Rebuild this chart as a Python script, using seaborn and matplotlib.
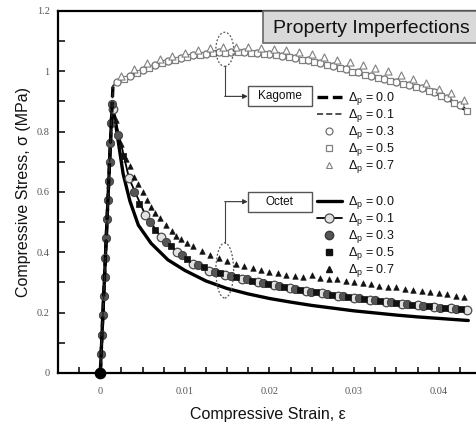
import matplotlib
matplotlib.use("Agg")
import matplotlib.pyplot as plt
from matplotlib.lines import Line2D
from matplotlib.patches import Ellipse, Rectangle
from matplotlib.ticker import MultipleLocator, FuncFormatter
import pandas as pd
import seaborn as sns

# ---------------- data ----------------
# shared elastic loading branch
elastic_strain = [0.0, 0.0001, 0.0002, 0.0003, 0.0004, 0.0005, 0.0006, 0.0007,
                  0.0008, 0.0009, 0.0010, 0.0011, 0.0012, 0.0013, 0.0014]
elastic_stress = [0.0, 0.064, 0.127, 0.191, 0.255, 0.318, 0.382, 0.446,
                  0.510, 0.573, 0.637, 0.701, 0.764, 0.828, 0.892]

# Kagome, delta_p = 0.0 and 0.1 (dashed curves)
kag_line_strain = [0.0, 0.0015, 0.0025, 0.004, 0.0055, 0.007, 0.0085, 0.010, 0.0115,
                   0.013, 0.0145, 0.016, 0.0175, 0.019, 0.0205, 0.022, 0.0235, 0.025,
                   0.0265, 0.028, 0.0295, 0.031, 0.0325, 0.034, 0.0355, 0.037, 0.0385,
                   0.040, 0.0415, 0.043, 0.0435]
kag_p00 = [0.0, 0.955, 0.972, 0.990, 1.008, 1.024, 1.037, 1.047, 1.054,
           1.059, 1.062, 1.063, 1.062, 1.059, 1.054, 1.048, 1.041, 1.032,
           1.022, 1.012, 1.001, 0.991, 0.980, 0.970, 0.960, 0.950, 0.938,
           0.922, 0.902, 0.876, 0.866]
kag_p01 = [0.0, 0.953, 0.970, 0.988, 1.006, 1.022, 1.035, 1.045, 1.052,
           1.057, 1.060, 1.061, 1.060, 1.057, 1.052, 1.046, 1.039, 1.030,
           1.020, 1.010, 0.999, 0.989, 0.978, 0.968, 0.958, 0.948, 0.936,
           0.920, 0.900, 0.874, 0.864]

# Kagome, delta_p = 0.3 (open circles)
kag_p03_strain = [0.002, 0.0035, 0.005, 0.0065, 0.008, 0.0095, 0.011, 0.0125, 0.014,
                  0.0155, 0.017, 0.0185, 0.020, 0.0215, 0.023, 0.0245, 0.026, 0.0275,
                  0.029, 0.0305, 0.032, 0.0335, 0.035, 0.0365, 0.038, 0.0395, 0.041, 0.0425]
kag_p03 = [0.966, 0.986, 1.004, 1.020, 1.034, 1.045, 1.053, 1.059, 1.063,
           1.065, 1.065, 1.062, 1.058, 1.052, 1.045, 1.037, 1.028, 1.018,
           1.007, 0.997, 0.986, 0.976, 0.966, 0.956, 0.945, 0.931, 0.912, 0.889]

# Kagome, delta_p = 0.5 (open squares)
kag_p05_strain = [0.0028, 0.0043, 0.0058, 0.0073, 0.0088, 0.0103, 0.0118, 0.0133, 0.0148,
                  0.0163, 0.0178, 0.0193, 0.0208, 0.0223, 0.0238, 0.0253, 0.0268, 0.0283,
                  0.0298, 0.0313, 0.0328, 0.0343, 0.0358, 0.0373, 0.0388, 0.0403, 0.0418, 0.0433]
kag_p05 = [0.975, 0.993, 1.010, 1.026, 1.039, 1.048, 1.055, 1.060, 1.062,
           1.063, 1.062, 1.058, 1.053, 1.047, 1.039, 1.030, 1.020, 1.010,
           0.999, 0.989, 0.978, 0.968, 0.958, 0.947, 0.935, 0.918, 0.896, 0.868]

# Kagome, delta_p = 0.7 (open triangles)
kag_p07_strain = [0.0025, 0.004, 0.0055, 0.007, 0.0085, 0.010, 0.0115, 0.013, 0.0145,
                  0.016, 0.0175, 0.019, 0.0205, 0.022, 0.0235, 0.025, 0.0265, 0.028,
                  0.0295, 0.031, 0.0325, 0.034, 0.0355, 0.037, 0.0385, 0.040, 0.0415, 0.043]
kag_p07 = [0.983, 1.008, 1.027, 1.040, 1.050, 1.060, 1.070, 1.077, 1.082,
           1.082, 1.080, 1.078, 1.075, 1.071, 1.064, 1.058, 1.046, 1.037,
           1.031, 1.022, 1.011, 1.000, 0.989, 0.976, 0.962, 0.943, 0.928, 0.905]

# Octet, delta_p = 0.0 (solid curve)
oct_p00_strain = [0.0, 0.00137, 0.0017, 0.002, 0.0027, 0.0035, 0.0045, 0.006, 0.008,
                  0.010, 0.0125, 0.015, 0.0175, 0.020, 0.0225, 0.025, 0.0275, 0.030,
                  0.0325, 0.035, 0.0375, 0.040, 0.0425, 0.0435]
oct_p00 = [0.0, 0.872, 0.850, 0.790, 0.660, 0.570, 0.490, 0.430, 0.375,
           0.340, 0.305, 0.280, 0.262, 0.247, 0.235, 0.224, 0.215, 0.206,
           0.199, 0.192, 0.186, 0.181, 0.176, 0.174]

# Octet, delta_p = 0.1 (line with open circles)
oct_p01_strain = [0.0015, 0.0034, 0.0053, 0.0072, 0.0091, 0.011, 0.0129, 0.0148, 0.0167,
                  0.0186, 0.0205, 0.0224, 0.0243, 0.0262, 0.0281, 0.030, 0.0319, 0.0338,
                  0.0357, 0.0376, 0.0395, 0.0414, 0.0433]
oct_p01 = [0.875, 0.645, 0.525, 0.450, 0.400, 0.362, 0.338, 0.325, 0.313,
           0.302, 0.291, 0.281, 0.272, 0.264, 0.256, 0.249, 0.243, 0.236,
           0.230, 0.224, 0.219, 0.214, 0.209]

# Octet, delta_p = 0.3 (filled circles)
oct_p03_strain = [0.0021, 0.004, 0.0059, 0.0078, 0.0097, 0.0116, 0.0135, 0.0154, 0.0173,
                  0.0192, 0.0211, 0.023, 0.0249, 0.0268, 0.0287, 0.0306, 0.0325, 0.0344,
                  0.0363, 0.0382, 0.0401, 0.042]
oct_p03 = [0.790, 0.600, 0.500, 0.435, 0.390, 0.357, 0.336, 0.322, 0.310,
           0.299, 0.289, 0.279, 0.270, 0.262, 0.254, 0.247, 0.241, 0.234,
           0.228, 0.222, 0.217, 0.212]

# Octet, delta_p = 0.5 (filled squares)
oct_p05_strain = [0.0027, 0.0046, 0.0065, 0.0084, 0.0103, 0.0122, 0.0141, 0.016, 0.0179,
                  0.0198, 0.0217, 0.0236, 0.0255, 0.0274, 0.0293, 0.0312, 0.0331, 0.035,
                  0.0369, 0.0388, 0.0407, 0.0426]
oct_p05 = [0.720, 0.560, 0.475, 0.420, 0.378, 0.350, 0.332, 0.318, 0.306,
           0.295, 0.285, 0.276, 0.267, 0.259, 0.252, 0.245, 0.239, 0.232,
           0.226, 0.221, 0.216, 0.211]

# Octet, delta_p = 0.7 (filled triangles)
oct_p07_strain = [0.0018, 0.0025, 0.003, 0.0035, 0.004, 0.0045, 0.005, 0.0055, 0.006,
                  0.0065, 0.007, 0.0078, 0.0085, 0.009, 0.0095, 0.0102, 0.011, 0.012,
                  0.013, 0.014, 0.015, 0.016, 0.017, 0.018, 0.019, 0.020, 0.021, 0.022,
                  0.023, 0.024, 0.025, 0.026, 0.027, 0.028, 0.029, 0.030, 0.031, 0.032,
                  0.033, 0.034, 0.035, 0.036, 0.037, 0.038, 0.039, 0.040, 0.041, 0.042, 0.043]
oct_p07 = [0.840, 0.760, 0.710, 0.685, 0.650, 0.625, 0.600, 0.575, 0.550,
           0.530, 0.515, 0.490, 0.470, 0.455, 0.445, 0.430, 0.420, 0.405,
           0.390, 0.380, 0.370, 0.362, 0.355, 0.347, 0.340, 0.335, 0.330, 0.326,
           0.322, 0.318, 0.325, 0.316, 0.313, 0.310, 0.305, 0.301, 0.298, 0.294,
           0.290, 0.286, 0.284, 0.280, 0.276, 0.272, 0.269, 0.264, 0.262, 0.256, 0.253]

x_ticks = [0.0, 0.01, 0.02, 0.03, 0.04]
y_ticks = [0.0, 0.2, 0.4, 0.6, 0.8, 1.0, 1.2]
legend_labels = ["0.0", "0.1", "0.3", "0.5", "0.7"]

# ---------------- style ----------------
sns.set_style("ticks")
plt.rcParams["font.family"] = ["Liberation Sans", "DejaVu Sans"]
plt.rcParams["mathtext.fontset"] = "custom"
plt.rcParams["mathtext.rm"] = "Liberation Sans"
plt.rcParams["mathtext.it"] = "Liberation Sans:italic"
plt.rcParams["mathtext.bf"] = "Liberation Sans:bold"

fig = plt.figure(figsize=(4.77, 4.26), dpi=100)
fig.patch.set_facecolor("white")
ax = fig.add_axes([58 / 477, 53 / 426, 419 / 477, 362 / 426])
ax.set_facecolor("white")


def frame(x, y):
    return pd.DataFrame({"strain": x, "stress": y})


def with_elastic(x, y):
    return frame(elastic_strain + x, elastic_stress + y)


# ---- Octet ----
sns.lineplot(data=frame(oct_p00_strain, oct_p00), x="strain", y="stress", ax=ax,
             sort=False, estimator=None, color="black", lw=2.4, zorder=3)
sns.lineplot(data=with_elastic(oct_p01_strain, oct_p01), x="strain", y="stress", ax=ax,
             sort=False, estimator=None, color="black", lw=1.3, zorder=3)
sns.scatterplot(data=frame(oct_p01_strain, oct_p01), x="strain", y="stress", ax=ax,
                marker="o", s=38, color="#e2e2e2", edgecolor="#4a4a4a", linewidth=0.9, zorder=4)
sns.scatterplot(data=with_elastic(oct_p03_strain, oct_p03), x="strain", y="stress", ax=ax,
                marker="o", s=36, color="#555555", edgecolor="#3a3a3a", linewidth=0.6, zorder=5)
sns.scatterplot(data=frame(oct_p05_strain, oct_p05), x="strain", y="stress", ax=ax,
                marker="s", s=16, color="#111111", edgecolor="#111111", linewidth=0.5, zorder=5)
sns.scatterplot(data=frame(oct_p07_strain, oct_p07), x="strain", y="stress", ax=ax,
                marker="^", s=16, color="#111111", edgecolor="#111111", linewidth=0.4, zorder=5)

# ---- Kagome ----
sns.lineplot(data=frame(kag_line_strain, kag_p00), x="strain", y="stress", ax=ax,
             sort=False, estimator=None, color="black", lw=2.4, zorder=6
             ).lines[-1].set_dashes((3.2, 1.4))
sns.lineplot(data=frame(kag_line_strain, kag_p01), x="strain", y="stress", ax=ax,
             sort=False, estimator=None, color="#222222", lw=1.1, zorder=6
             ).lines[-1].set_dashes((4, 2))
sns.scatterplot(data=frame(kag_p03_strain, kag_p03), x="strain", y="stress", ax=ax,
                marker="o", s=26, color="white", edgecolor="#707070", linewidth=0.9, zorder=7)
sns.scatterplot(data=frame(kag_p05_strain, kag_p05), x="strain", y="stress", ax=ax,
                marker="s", s=18, color="white", edgecolor="#808080", linewidth=0.9, zorder=7)
sns.scatterplot(data=frame(kag_p07_strain, kag_p07), x="strain", y="stress", ax=ax,
                marker="^", s=26, color="white", edgecolor="#808080", linewidth=0.8, zorder=7)

# origin marker
ax.scatter([0.0], [0.0], s=55, color="black", zorder=8, clip_on=False)

# ---------------- axes ----------------
ax.set_xlim(-0.005, 0.04453)
ax.set_ylim(0, 1.2)
ax.set_xticks(x_ticks)
ax.set_yticks(y_ticks)
ax.xaxis.set_minor_locator(MultipleLocator(0.0025))
ax.yaxis.set_minor_locator(MultipleLocator(0.1))
ax.xaxis.set_major_formatter(FuncFormatter(lambda v, p: "%g" % round(v, 4)))
ax.yaxis.set_major_formatter(FuncFormatter(lambda v, p: "%g" % round(v, 2)))
ax.tick_params(which="both", direction="in", colors="black", width=1.1,
               labelcolor="#555555", labelsize=7.5, labelfontfamily="Liberation Serif",
               top=False, right=False)
ax.tick_params(axis="x", which="both", length=4, pad=10)
ax.tick_params(axis="y", which="both", length=5, pad=6)
for side in ("left", "bottom", "top"):
    ax.spines[side].set_linewidth(1.6)
    ax.spines[side].set_color("black")
ax.spines["right"].set_visible(False)

ax.set_xlabel("Compressive Strain, ε", fontsize=11.5, labelpad=8, color="#111111")
ax.set_ylabel("Compressive Stress, σ (MPa)", fontsize=11.5, labelpad=4, color="#111111")

# ---------------- title box ----------------
ax.add_patch(Rectangle((0.489, 0.9116), 0.52, 0.0884, transform=ax.transAxes,
                       facecolor="#d9d9d9", edgecolor="#666666", lw=1.2,
                       clip_on=False, zorder=9))
ax.text(0.748, 0.953, "Property Imperfections", transform=ax.transAxes,
        ha="center", va="center", fontsize=14, color="#111111", zorder=10)

# ---------------- group call-outs ----------------
callout_x = 0.01471
box_left = 0.01743
box_w = 0.00757
for name, cy, ell_c, ell_h, y0 in (("Kagome", 0.917, 1.073, 0.113, 1.017),
                                   ("Octet", 0.568, 0.340, 0.183, 0.431)):
    ax.add_patch(Ellipse((callout_x, ell_c), 0.0021, ell_h, fill=False,
                         ls=(0, (1.5, 1.5)), ec="#555555", lw=0.9, zorder=8))
    ax.plot([callout_x, callout_x], [y0, cy], color="#444444", lw=0.8, zorder=8)
    ax.annotate("", xy=(box_left, cy), xytext=(callout_x, cy),
                arrowprops=dict(arrowstyle="-|>", color="#333333", lw=0.8,
                                mutation_scale=7, shrinkA=0, shrinkB=0), zorder=8)
    ax.add_patch(Rectangle((box_left, cy - 0.033), box_w, 0.066, facecolor="white",
                           edgecolor="#555555", lw=1.0, zorder=9))
    ax.text(box_left + box_w / 2, cy, name, ha="center", va="center",
            fontsize=8.5, color="#111111", zorder=10)

# ---------------- legends ----------------
labels = [r"$\Delta_{\rm p}$ = " + v for v in legend_labels]
kag_handles = [
    Line2D([], [], color="black", lw=2.4, dashes=(3.2, 1.4)),
    Line2D([], [], color="#222222", lw=1.1, dashes=(4, 2)),
    Line2D([], [], ls="none", marker="o", ms=5, mfc="white", mec="#707070", mew=0.9),
    Line2D([], [], ls="none", marker="s", ms=4, mfc="white", mec="#808080", mew=0.9),
    Line2D([], [], ls="none", marker="^", ms=4.5, mfc="white", mec="#808080", mew=0.8),
]
oct_handles = [
    Line2D([], [], color="black", lw=2.4),
    Line2D([], [], color="black", lw=1.3, marker="o", ms=6.5, mfc="#e2e2e2",
           mec="#4a4a4a", mew=0.9),
    Line2D([], [], ls="none", marker="o", ms=6, mfc="#555555", mec="#3a3a3a"),
    Line2D([], [], ls="none", marker="s", ms=4, mfc="#111111", mec="#111111"),
    Line2D([], [], ls="none", marker="^", ms=4.5, mfc="#111111", mec="#111111"),
]
leg_kw = dict(loc="upper left", frameon=False, fontsize=9, handlelength=2.0,
              handletextpad=0.45, labelspacing=0.0, borderpad=0, borderaxespad=0,
              numpoints=1)
leg1 = ax.legend(kag_handles, labels, bbox_to_anchor=((317 - 58) / 419, (373 - 90) / 362),
                 **leg_kw)
for t in leg1.get_texts():
    t.set_color("#111111")
ax.add_artist(leg1)
leg2 = ax.legend(oct_handles, labels, bbox_to_anchor=((317 - 58) / 419, (373 - 194) / 362),
                 **leg_kw)
for t in leg2.get_texts():
    t.set_color("#111111")

fig.savefig("out.png", dpi=100, facecolor="white")
